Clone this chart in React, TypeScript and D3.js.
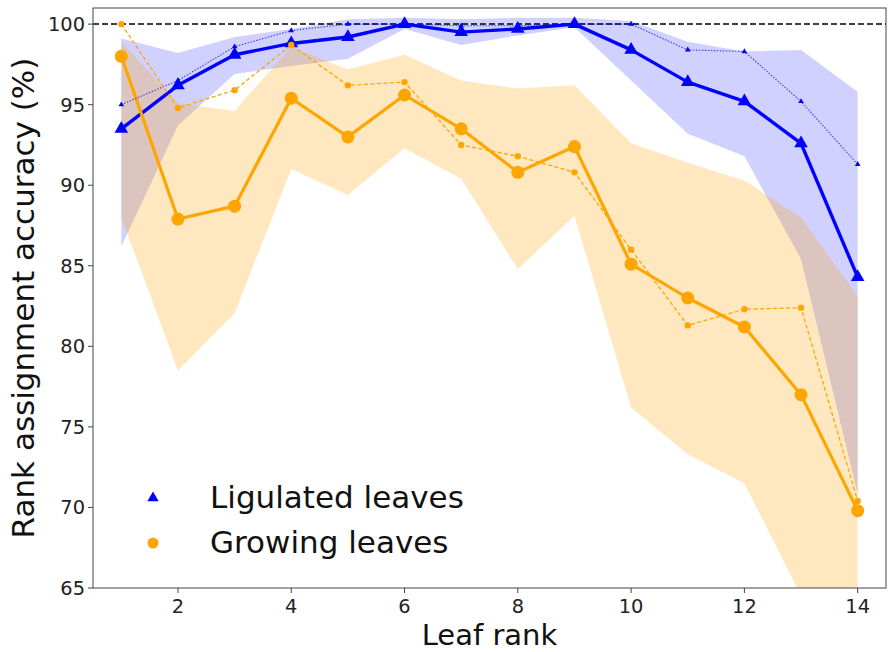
import React from 'react';
import * as d3 from 'd3';

const ranks = [1, 2, 3, 4, 5, 6, 7, 8, 9, 10, 11, 12, 13, 14];
const ligMean = [93.5, 96.2, 98.1, 98.8, 99.2, 100, 99.5, 99.7, 100, 98.4, 96.4, 95.2, 92.6, 84.3];
const ligAlt = [95.0, 96.5, 98.6, 99.6, 100, 100, 99.9, 99.9, 100, 100, 98.4, 98.3, 95.2, 91.3];
const ligLow = [86.2, 93.7, 96.9, 97.4, 97.85, 99.7, 98.7, 99.3, 99.8, 96.5, 93.2, 91.8, 85.4, 70.8];
const ligHigh = [99.1, 98.2, 99.2, 99.7, 100.3, 100.4, 100.3, 100.4, 100.4, 100.2, 98.9, 98.3, 98.4, 95.8];
const growMean = [98.0, 87.9, 88.7, 95.4, 93.0, 95.6, 93.5, 90.8, 92.4, 85.1, 83.0, 81.2, 77.0, 69.8];
const growAlt = [100, 94.8, 95.9, 98.7, 96.2, 96.4, 92.5, 91.8, 90.8, 86.0, 81.3, 82.3, 82.4, 70.4];
const growLow = [88.0, 78.5, 82.05, 91.0, 89.4, 92.3, 90.4, 84.8, 88.1, 76.2, 73.3, 71.5, 64.5, 60.0];
const growHigh = [98.9, 95.1, 94.6, 98.6, 97.2, 98.1, 96.5, 96.0, 96.2, 92.6, 91.4, 90.3, 88.0, 83.1];
const xTicks = [2, 4, 6, 8, 10, 12, 14];
const yTicks = [65, 70, 75, 80, 85, 90, 95, 100];
const legendLabels = ['Ligulated leaves', 'Growing leaves'];

const BLUE = '#0000ff';
const ORANGE = '#ffa500';
const FONT = "'DejaVu Sans', sans-serif";

export default function App() {
  const W = 891, H = 652;
  const left = 93, right = 886, top = 8, bottom = 588;
  const x = d3.scaleLinear().domain([0.5, 14.5]).range([left, right]);
  const y = d3.scaleLinear().domain([65, 101]).range([bottom, top]);
  const idx = ranks.map((_, i) => i);

  const band = (lo: number[], hi: number[]) =>
    d3.area<number>().x(i => x(ranks[i])).y0(i => y(lo[i])).y1(i => y(hi[i]))(idx) || '';
  const line = (v: number[]) => d3.line<number>().x(i => x(ranks[i])).y(i => y(v[i]))(idx) || '';

  const triBig = d3.symbol().type(d3.symbolTriangle).size(80)() || '';
  const triSmall = d3.symbol().type(d3.symbolTriangle).size(14)() || '';
  const triLegend = d3.symbol().type(d3.symbolTriangle).size(55)() || '';

  return (
    <svg width={W} height={H} style={{ position: 'absolute', left: 0, top: 0, background: '#fff' }}
      fontFamily={FONT}>
      <defs>
        <clipPath id="plot">
          <rect x={left} y={top} width={right - left} height={bottom - top} />
        </clipPath>
      </defs>
      <rect x={0} y={0} width={W} height={H} fill="#fff" />
      <g clipPath="url(#plot)">
        <path d={band(ligLow, ligHigh)} fill={BLUE} fillOpacity={0.18} stroke="none" />
        <path d={band(growLow, growHigh)} fill={ORANGE} fillOpacity={0.25} stroke="none" />
        <line x1={left} x2={right} y1={y(100)} y2={y(100)} stroke="#000" strokeWidth={1.5} strokeDasharray="6,3" />
        <path d={line(ligMean)} fill="none" stroke={BLUE} strokeWidth={3.4} strokeLinejoin="round" />
        {idx.map(i => (
          <path key={'lm' + i} d={triBig} transform={`translate(${x(ranks[i])},${y(ligMean[i])})`} fill={BLUE} />
        ))}
        <path d={line(growMean)} fill="none" stroke={ORANGE} strokeWidth={3.2} strokeLinejoin="round" />
        {idx.map(i => (
          <circle key={'gm' + i} cx={x(ranks[i])} cy={y(growMean[i])} r={6.5} fill={ORANGE} />
        ))}
        <path d={line(ligAlt)} fill="none" stroke={BLUE} strokeOpacity={0.7} strokeWidth={1.1} strokeDasharray="1.5,1.5" />
        {idx.map(i => (
          <path key={'la' + i} d={triSmall} transform={`translate(${x(ranks[i])},${y(ligAlt[i])})`} fill={BLUE} />
        ))}
        <path d={line(growAlt)} fill="none" stroke={ORANGE} strokeWidth={1.3} strokeDasharray="4,2.5" />
        {idx.map(i => (
          <circle key={'ga' + i} cx={x(ranks[i])} cy={y(growAlt[i])} r={3.2} fill={ORANGE} />
        ))}
      </g>
      <rect x={left} y={top} width={right - left} height={bottom - top} fill="none" stroke="#444" strokeWidth={1} />
      {xTicks.map(t => (
        <g key={'xt' + t}>
          <line x1={x(t)} x2={x(t)} y1={bottom} y2={bottom + 5} stroke="#444" />
          <text x={x(t)} y={613} textAnchor="middle" fontSize={19.4} fill="#222">{t}</text>
        </g>
      ))}
      {yTicks.map(t => (
        <g key={'yt' + t}>
          <line x1={left - 5} x2={left} y1={y(t)} y2={y(t)} stroke="#444" />
          <text x={85} y={y(t) + 7} textAnchor="end" fontSize={19.4} fill="#222">{t}</text>
        </g>
      ))}
      <text x={(left + right) / 2} y={645} textAnchor="middle" fontSize={29} fill="#111">Leaf rank</text>
      <text transform={`translate(34,${(top + bottom) / 2}) rotate(-90)`} textAnchor="middle" fontSize={31} fill="#111">
        Rank assignment accuracy (%)
      </text>
      <path d={triLegend} transform="translate(153,498)" fill={BLUE} />
      <circle cx={153} cy={543} r={5.5} fill={ORANGE} />
      <text x={210} y={508} fontSize={31} fill="#111">{legendLabels[0]}</text>
      <text x={210} y={553} fontSize={31} fill="#111">{legendLabels[1]}</text>
    </svg>
  );
}
